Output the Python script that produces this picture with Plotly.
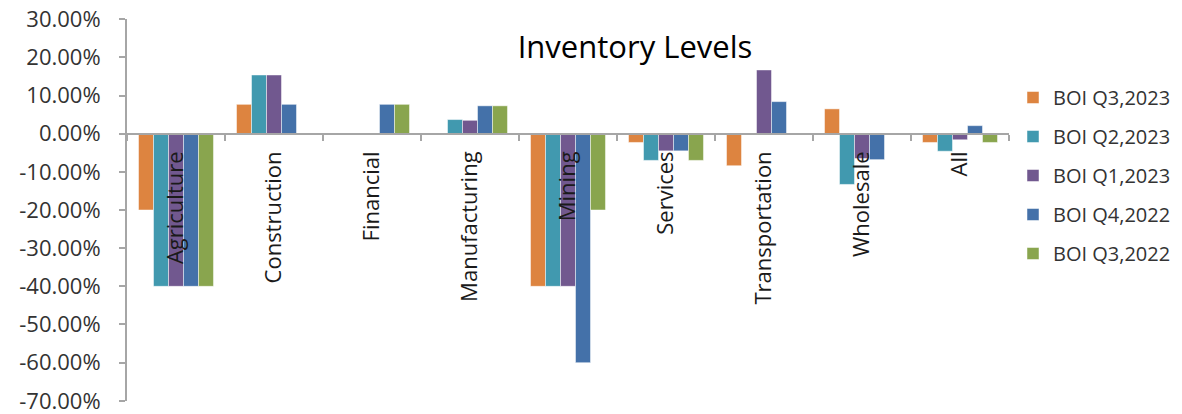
import plotly.graph_objects as go

categories = ["Agriculture", "Construction", "Financial", "Manufacturing", "Mining",
              "Services", "Transportation", "Wholesale", "All"]

q3_2023 = [-0.20, 0.0769, None, None, -0.40, -0.023, -0.084, 0.065, -0.023]
q2_2023 = [-0.40, 0.1538, None, 0.037, -0.40, -0.07, None, -0.133, -0.046]
q1_2023 = [-0.40, 0.1538, None, 0.035, -0.40, -0.045, 0.167, -0.065, -0.016]
q4_2022 = [-0.40, 0.0769, 0.0769, 0.073, -0.60, -0.045, 0.084, -0.068, 0.021]
q3_2022 = [-0.40, None, 0.0769, 0.073, -0.20, -0.07, None, None, -0.023]

series_names = ["BOI Q3,2023", "BOI Q2,2023", "BOI Q1,2023", "BOI Q4,2022", "BOI Q3,2022"]
series_values = [q3_2023, q2_2023, q1_2023, q4_2022, q3_2022]
colors = ["#DD8440", "#4199AF", "#71588F", "#4471A9", "#89A54E"]

y_ticks = [0.30, 0.20, 0.10, 0.0, -0.10, -0.20, -0.30, -0.40, -0.50, -0.60, -0.70]
y_tick_labels = ["30.00%", "20.00%", "10.00%", "0.00%", "-10.00%", "-20.00%", "-30.00%",
                 "-40.00%", "-50.00%", "-60.00%", "-70.00%"]

FONT = "Open Sans"
TXT = "#333333"
AX = "#A6A6A6"

fig = go.Figure()
for i, (name, vals, col) in enumerate(zip(series_names, series_values, colors)):
    fig.add_trace(go.Bar(
        x=categories, y=vals, name=name, legendgroup=f"g{i}",
        marker=dict(color=col, line=dict(color="rgba(255,255,255,0.6)", width=0.8)),
    ))

fig.update_layout(
    width=1182, height=414,
    margin=dict(l=127, r=173, t=19, b=13, autoexpand=False),
    paper_bgcolor="white", plot_bgcolor="white",
    barmode="group", bargap=0.235, bargroupgap=0,
    font=dict(family=FONT, color=TXT),
    title=dict(text="Inventory Levels", xref="container", yref="container",
               x=635 / 1182, y=1 - 47 / 414, xanchor="center", yanchor="middle",
               font=dict(size=31, color="#000000", family=FONT)),
    showlegend=True,
    legend=dict(xref="container", yref="container", x=1013 / 1182, y=1 - 78 / 414,
                xanchor="left", yanchor="top", font=dict(size=20, color=TXT, family=FONT),
                tracegroupgap=10, bgcolor="rgba(0,0,0,0)"),
    xaxis=dict(anchor="free", position=0.7, showline=True, linecolor=AX, linewidth=2,
               ticks="outside", tickson="boundaries", ticklen=6, tickcolor=AX, tickwidth=2,
               tickangle=-90, tickfont=dict(size=22, color="#1a1a1a", family=FONT),
               ticklabelstandoff=8, automargin=False,
               showgrid=False, zeroline=False, fixedrange=True),
    yaxis=dict(range=[-0.7005, 0.3005], tickvals=y_ticks, ticktext=y_tick_labels,
               showline=True, linecolor=AX, linewidth=2, ticks="outside", ticklen=6,
               tickcolor=AX, tickwidth=2, showgrid=False, zeroline=False,
               ticklabeloverflow="allow", automargin=False,
               tickfont=dict(size=22, color=TXT, family=FONT), ticklabelstandoff=14),
)

fig.write_html("out.html")
